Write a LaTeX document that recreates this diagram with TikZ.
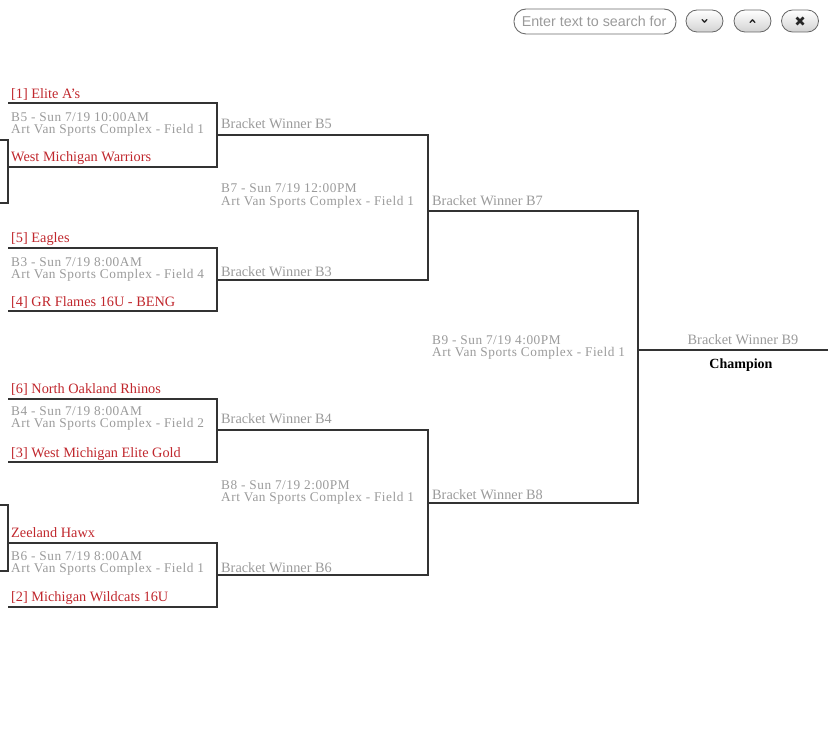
\documentclass[tikz,border=0pt]{standalone}
\usepackage{fontspec}
\setmainfont{Liberation Serif}
\newfontfamily\uifont{Liberation Sans}
\newfontfamily\infofont[LetterSpace=4]{Liberation Serif}
\usetikzlibrary{positioning}
\definecolor{teamred}{HTML}{C0272D}
\definecolor{infogray}{HTML}{9A9A9A}
\definecolor{linegray}{HTML}{333333}

\begin{document}
\begin{tikzpicture}[x=1pt,y=-1pt,
    team/.style={text=teamred,font=\fontsize{14.3}{14}\selectfont,anchor=base west,inner sep=0pt},
    info/.style={text=infogray,font=\infofont\fontsize{13.3}{12.2}\selectfont,anchor=base west,inner sep=0pt,align=left},
    winner/.style={text=infogray,font=\fontsize{14.3}{14}\selectfont,anchor=base west,inner sep=0pt},
    bracket/.style={draw=linegray,line width=2.8pt},
    btn/.style={draw=gray!80!black,line width=0.8pt,rounded corners=11pt,minimum width=37pt,minimum height=22pt,top color=white,bottom color=gray!35},
    icon/.style={draw=black!85,line width=1.3pt,line cap=round,line join=round}]

  \useasboundingbox (0,0) rectangle (828,741);

  % search bar
  \node[draw=gray!85!black,line width=0.9pt,rounded corners=12pt,minimum width=162pt,minimum height=25pt,inner sep=0pt] (search) at (595,21.5) {};
  \node[anchor=west,inner sep=0pt,text=infogray,font=\uifont\fontsize{14.3}{14}\selectfont] (searchtext) at ([xshift=8pt]search.west) {Enter text to search for};
  \node[btn] (btndown) at (704.5,21) {};
  \node[btn] (btnup) at (752.5,21) {};
  \node[btn] (btnclose) at (800,21) {};
  \draw[icon] ([shift={(-2.5,-1.5)}]btndown.center) -- ([shift={(0,1.2)}]btndown.center) -- ([shift={(2.5,-1.5)}]btndown.center);
  \draw[icon] ([shift={(-2.5,1.5)}]btnup.center) -- ([shift={(0,-1.2)}]btnup.center) -- ([shift={(2.5,1.5)}]btnup.center);
  \draw[icon,line width=2.6pt,line cap=butt] ([shift={(-3.5,-3.5)}]btnclose.center) -- ([shift={(3.5,3.5)}]btnclose.center);
  \draw[icon,line width=2.6pt,line cap=butt] ([shift={(-3.5,3.5)}]btnclose.center) -- ([shift={(3.5,-3.5)}]btnclose.center);

  % bracket corners
  \coordinate (p1t) at (0,140);   \coordinate (p1tr) at (8,140);
  \coordinate (p1b) at (0,203);   \coordinate (p1br) at (8,203);
  \coordinate (p2t) at (0,505);   \coordinate (p2tr) at (8,505);
  \coordinate (p2b) at (0,571);   \coordinate (p2br) at (8,571);

  \coordinate (b5tl) at (8,103);  \coordinate (b5tr) at (217,103);
  \coordinate (b5bl) at (8,167);  \coordinate (b5br) at (217,167);
  \coordinate (b5out) at (217,135);
  \coordinate (b3tl) at (8,248);  \coordinate (b3tr) at (217,248);
  \coordinate (b3bl) at (8,311);  \coordinate (b3br) at (217,311);
  \coordinate (b3out) at (217,280);
  \coordinate (b4tl) at (8,399);  \coordinate (b4tr) at (217,399);
  \coordinate (b4bl) at (8,462);  \coordinate (b4br) at (217,462);
  \coordinate (b4out) at (217,430);
  \coordinate (b6tl) at (8,543);  \coordinate (b6tr) at (217,543);
  \coordinate (b6bl) at (8,607);  \coordinate (b6br) at (217,607);
  \coordinate (b6out) at (217,575);

  \coordinate (b7t) at (428,135); \coordinate (b7b) at (428,280);
  \coordinate (b7out) at (428,211);
  \coordinate (b8t) at (428,430); \coordinate (b8b) at (428,575);
  \coordinate (b8out) at (428,503);

  \coordinate (b9t) at (638,211); \coordinate (b9b) at (638,503);
  \coordinate (b9out) at (638,350);
  \coordinate (champ) at (828,350);

  % lines
  \draw[bracket] (p1t) -- (p1tr) -- (p1br) -- (p1b);
  \draw[bracket] (p2t) -- (p2tr) -- (p2br) -- (p2b);
  \draw[bracket] (b5tl) -- (b5tr) -- (b5br) -- (b5bl);
  \draw[bracket] (b3tl) -- (b3tr) -- (b3br) -- (b3bl);
  \draw[bracket] (b4tl) -- (b4tr) -- (b4br) -- (b4bl);
  \draw[bracket] (b6tl) -- (b6tr) -- (b6br) -- (b6bl);
  \draw[bracket] (b5out) -- (b7t) -- (b7b) -- (b3out);
  \draw[bracket] (b4out) -- (b8t) -- (b8b) -- (b6out);
  \draw[bracket] (b7out) -- (b9t) -- (b9b) -- (b8out);
  \draw[bracket] (b9out) -- (champ);

  % first round
  \node[team] (eliteas) at (11,99) {[1] Elite A's};
  \node[info] (b5info) at (11,133.5) {B5 - Sun 7/19 10:00AM\\Art Van Sports Complex - Field 1};
  \node[team] (warriors) at (11,162) {West Michigan Warriors};

  \node[team] (eagles) at (11,243) {[5] Eagles};
  \node[info] (b3info) at (11,278.5) {B3 - Sun 7/19 8:00AM\\Art Van Sports Complex - Field 4};
  \node[team] (flames) at (11,306) {[4] GR Flames 16U - BENG};

  \node[team] (rhinos) at (11,393) {[6] North Oakland Rhinos};
  \node[info] (b4info) at (11,427.5) {B4 - Sun 7/19 8:00AM\\Art Van Sports Complex - Field 2};
  \node[team] (elitegold) at (11,457) {[3] West Michigan Elite Gold};

  \node[team] (zeeland) at (11,537) {Zeeland Hawx};
  \node[info] (b6info) at (11,572.5) {B6 - Sun 7/19 8:00AM\\Art Van Sports Complex - Field 1};
  \node[team] (wildcats) at (11,601) {[2] Michigan Wildcats 16U};

  % second round
  \node[winner] (wb5) at (221,129) {Bracket Winner B5};
  \node[info] (b7info) at (221,205) {B7 - Sun 7/19 12:00PM\\Art Van Sports Complex - Field 1};
  \node[winner] (wb3) at (221,276) {Bracket Winner B3};
  \node[winner] (wb4) at (221,423) {Bracket Winner B4};
  \node[info] (b8info) at (221,501.5) {B8 - Sun 7/19 2:00PM\\Art Van Sports Complex - Field 1};
  \node[winner] (wb6) at (221,572) {Bracket Winner B6};

  % final
  \node[winner] (wb7) at (432,206) {Bracket Winner B7};
  \node[info] (b9info) at (432,356.5) {B9 - Sun 7/19 4:00PM\\Art Van Sports Complex - Field 1};
  \node[winner] (wb8) at (432,499) {Bracket Winner B8};
  \node[winner,anchor=base] (wb9) at (743,344) {Bracket Winner B9};
  \node[anchor=base,inner sep=0pt,font=\bfseries\fontsize{14}{14}\selectfont] (champion) at (741,368) {Champion};
\end{tikzpicture}
\end{document}
